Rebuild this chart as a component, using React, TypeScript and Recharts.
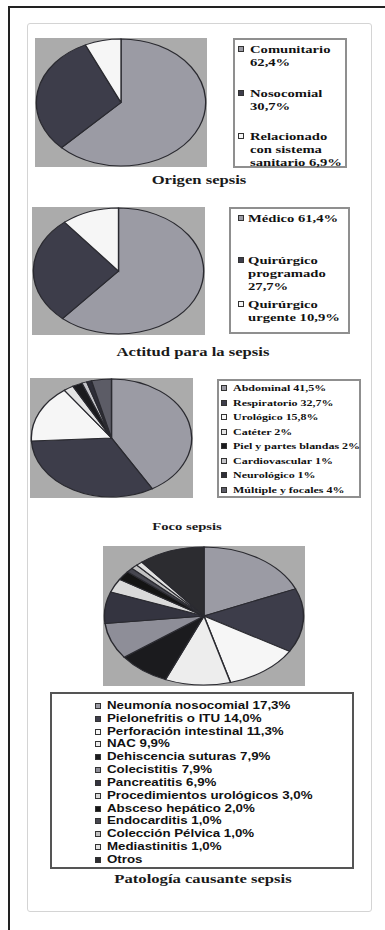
import React from 'react';
import { PieChart, Pie, Cell } from 'recharts';

// the scanned figure is stretched sideways, text and pies alike
const STRETCH = 1.33;

const GRAY = '#9b9ba4';
const DARK = '#3d3d4a';
const WHITE = '#f6f6f6';
const BLACK = '#1b1b1e';
const PLOT_BG = '#ababab';

const SERIF = '"Liberation Serif", "Times New Roman", serif';
const SANS = '"Liberation Sans", Arial, sans-serif';

// Origen sepsis
const origenNames = ['Comunitario\n62,4%', 'Nosocomial\n30,7%', 'Relacionado\ncon sistema\nsanitario 6,9%'];
const origenValues = [62.4, 30.7, 6.9];
const origenColors = [GRAY, DARK, WHITE];

// Actitud para la sepsis
const actitudNames = ['Médico 61,4%', 'Quirúrgico\nprogramado\n27,7%', 'Quirúrgico\nurgente 10,9%'];
const actitudValues = [61.4, 27.7, 10.9];
const actitudColors = [GRAY, DARK, WHITE];

// Foco sepsis
const focoNames = [
  'Abdominal 41,5%',
  'Respiratorio 32,7%',
  'Urológico 15,8%',
  'Catéter 2%',
  'Piel y partes blandas 2%',
  'Cardiovascular 1%',
  'Neurológico 1%',
  'Múltiple y focales 4%',
];
const focoValues = [41.5, 32.7, 15.8, 2, 2, 1, 1, 4];
const focoColors = [GRAY, DARK, WHITE, '#e4e4e4', BLACK, '#c4c4c8', '#2e2e38', '#5c5c66'];

// Patología causante sepsis
const patologiaNames = [
  'Neumonía nosocomial 17,3%',
  'Pielonefritis o ITU 14,0%',
  'Perforación intestinal 11,3%',
  'NAC 9,9%',
  'Dehiscencia suturas 7,9%',
  'Colecistitis 7,9%',
  'Pancreatitis 6,9%',
  'Procedimientos urológicos 3,0%',
  'Absceso hepático 2,0%',
  'Endocarditis 1,0%',
  'Colección Pélvica 1,0%',
  'Mediastinitis 1,0%',
  'Otros',
];
const patologiaValues = [17.3, 14.0, 11.3, 9.9, 7.9, 7.9, 6.9, 3.0, 2.0, 1.0, 1.0, 1.0, 10];
const patologiaColors = [
  GRAY, DARK, WHITE, '#ededed', BLACK, '#8e8e98', '#343440',
  '#dadada', '#141414', '#46464f', '#c2c2c2', '#e2e2e2', '#2c2c30',
];

const EllipsePie = ({ x, y, w, h, names, values, colors }: any) => {
  const data = names.map((n: string, i: number) => ({ name: n, value: values[i] }));
  return (
    <div style={{ position: 'absolute', left: x, top: y, width: w, height: h, background: PLOT_BG, overflow: 'hidden' }}>
      <div style={{ width: h, height: h, transform: `scaleX(${w / h})`, transformOrigin: '0 0' }}>
        <PieChart width={h} height={h} margin={{ top: 0, right: 0, bottom: 0, left: 0 }}>
          <Pie
            data={data}
            dataKey="value"
            cx="50%"
            cy="50%"
            outerRadius={h / 2 - 1}
            startAngle={90}
            endAngle={-270}
            stroke="#2a2a30"
            strokeWidth={1}
            isAnimationActive={false}
          >
            {data.map((_: any, i: number) => (
              <Cell key={i} fill={colors[i]} />
            ))}
          </Pie>
        </PieChart>
      </div>
    </div>
  );
};

const LegendBox = ({ x, y, w, h, names, colors, tops, markerX, textX, font, size, lineH, weight, border }: any) => (
  <div style={{ position: 'absolute', left: x, top: y, width: w, height: h, boxSizing: 'border-box', border, background: '#fff' }}>
    {names.map((n: string, i: number) => (
      <div key={i} style={{ position: 'absolute', top: tops[i], left: 0, width: '100%' }}>
        <div
          style={{
            position: 'absolute', left: markerX, top: (lineH - 6) / 2, width: 6, height: 6,
            boxSizing: 'border-box', border: '1px solid #333', background: colors[i],
          }}
        />
        <div
          style={{
            position: 'absolute', left: textX, top: 0, whiteSpace: 'pre', fontFamily: font,
            fontSize: size, lineHeight: `${lineH}px`, fontWeight: weight, color: '#111',
            transform: `scaleX(${STRETCH})`, transformOrigin: '0 0',
          }}
        >
          {n}
        </div>
      </div>
    ))}
  </div>
);

const Title = ({ cx, cy, text, size }: any) => (
  <div
    style={{
      position: 'absolute', left: cx - 150, top: cy - 8, width: 300, height: 16, lineHeight: '16px',
      textAlign: 'center', fontFamily: SERIF, fontWeight: 700, fontSize: size, color: '#1a1a1a',
      transform: `scaleX(${STRETCH})`, transformOrigin: '50% 50%',
    }}
  >
    {text}
  </div>
);

const spaced = (n: number, first: number, step: number) => Array.from({ length: n }, (_, i) => first + i * step);

export default function App() {
  return (
    <div style={{ position: 'absolute', left: 0, top: 0, width: 385, height: 930, background: '#fff', overflow: 'hidden' }}>
      {/* page frame */}
      <div style={{ position: 'absolute', left: 8, top: 6, width: 377, height: 2, background: '#222' }} />
      <div style={{ position: 'absolute', left: 8, top: 6, width: 2, height: 924, background: '#222' }} />
      <div
        style={{
          position: 'absolute', left: 27, top: 23, width: 345, height: 889, boxSizing: 'border-box',
          border: '1px solid #d4d4d4', borderRadius: 3,
        }}
      />

      <EllipsePie x={35} y={38} w={172} h={129} names={origenNames} values={origenValues} colors={origenColors} />
      <LegendBox
        x={233} y={38} w={114} h={130} names={origenNames} colors={origenColors}
        tops={[2.5, 46.5, 89.5]} markerX={3} textX={15} font={SERIF} size={11} lineH={13} weight={700}
        border="2px solid #8f8f8f"
      />
      <Title cx={199} cy={180} text="Origen sepsis" size={12.5} />

      <EllipsePie x={32} y={207} w={173} h={128} names={actitudNames} values={actitudValues} colors={actitudColors} />
      <LegendBox
        x={229} y={207} w={121} h={127} names={actitudNames} colors={actitudColors}
        tops={[2.5, 44.5, 88.5]} markerX={7} textX={17} font={SERIF} size={11} lineH={13} weight={700}
        border="2px solid #8f8f8f"
      />
      <Title cx={193} cy={352} text="Actitud para la sepsis" size={12.5} />

      <EllipsePie x={30} y={378} w={163} h={120} names={focoNames} values={focoValues} colors={focoColors} />
      <LegendBox
        x={217} y={379} w={144} h={119} names={focoNames} colors={focoColors}
        tops={spaced(8, 1, 14.57)} markerX={2} textX={14} font={SERIF} size={9} lineH={12} weight={700}
        border="2px solid #8f8f8f"
      />
      <Title cx={187} cy={526} text="Foco sepsis" size={11} />

      <EllipsePie x={103} y={546} w={202} h={140} names={patologiaNames} values={patologiaValues} colors={patologiaColors} />
      <LegendBox
        x={50} y={692} w={304} h={177} names={patologiaNames} colors={patologiaColors}
        tops={spaced(13, 6, 12.83)} markerX={43} textX={55} font={SANS} size={10} lineH={12} weight={700}
        border="2px solid #555"
      />
      <Title cx={203} cy={879} text="Patología causante sepsis" size={12.5} />
    </div>
  );
}
